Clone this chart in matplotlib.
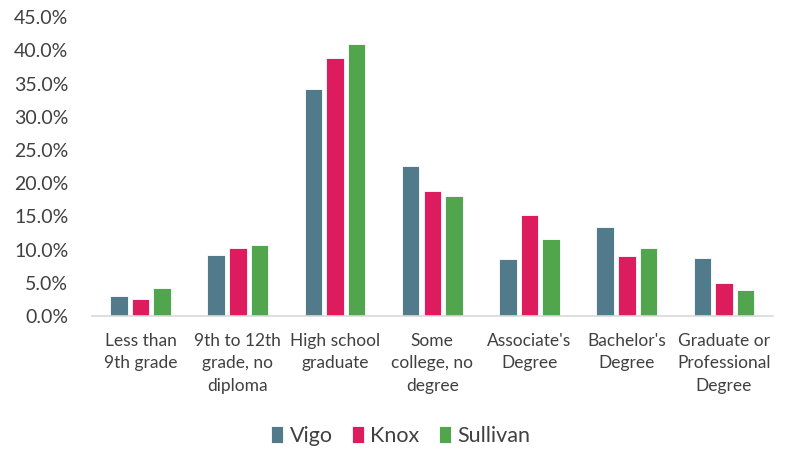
import numpy as np
import matplotlib
matplotlib.use("Agg")
import matplotlib.pyplot as plt
from matplotlib.ticker import FuncFormatter

# data (percent)
categories = ["Less than\n9th grade", "9th to 12th\ngrade, no\ndiploma",
              "High school\ngraduate", "Some\ncollege, no\ndegree",
              "Associate's\nDegree", "Bachelor's\nDegree",
              "Graduate or\nProfessional\nDegree"]
vigo = [3.0, 9.2, 34.1, 22.6, 8.6, 13.4, 8.7]
knox = [2.5, 10.2, 38.9, 18.8, 15.2, 9.0, 5.0]
sullivan = [4.3, 10.7, 40.9, 18.1, 11.6, 10.2, 3.9]

series = [("Vigo", vigo, "#517a8a"),
          ("Knox", knox, "#dc1c5c"),
          ("Sullivan", sullivan, "#51a54c")]

plt.rcParams["font.family"] = ["Lato", "DejaVu Sans"]

fig = plt.figure(figsize=(7.86, 4.49), dpi=100)
ax = fig.add_axes([0.117, 0.296, 0.866, 0.666])

x = np.arange(len(categories))
step = 0.222
for i, (name, vals, col) in enumerate(series):
    ax.bar(x + (i - 1) * step, vals, width=0.18, color=col, label=name,
           edgecolor="white", linewidth=0.6)

ax.set_xlim(-0.5, len(categories) - 0.5)
ax.set_ylim(0, 45)
ax.set_yticks(np.arange(0, 46, 5))
ax.yaxis.set_major_formatter(FuncFormatter(lambda v, p: "%.1f%%" % v))
ax.set_xticks(x)
ax.set_xticklabels(categories, fontsize=12.5, color="#404040", linespacing=1.5)
ax.tick_params(axis="y", length=0, pad=17, labelsize=14, labelcolor="#404040")
ax.tick_params(axis="x", length=0, pad=12)

for s in ["top", "right", "left"]:
    ax.spines[s].set_visible(False)
ax.spines["bottom"].set_color("#d9d9d9")
ax.spines["bottom"].set_linewidth(1.2)

fig.legend(loc="center", bbox_to_anchor=(0.51, 0.03), ncol=3, frameon=False,
           fontsize=15.5, handlelength=0.55, handleheight=0.85, handletextpad=0.3,
           columnspacing=0.9, labelcolor="#404040")

plt.savefig("out.png", dpi=100)
